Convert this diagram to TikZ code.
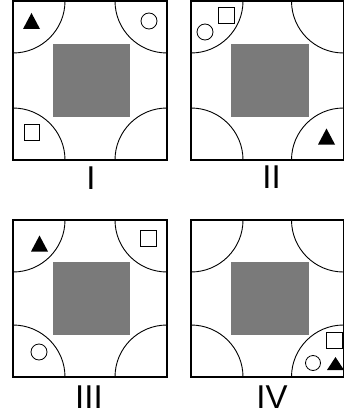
\documentclass[tikz,border=0pt]{standalone}
\usepackage{fontspec}
\setmainfont{Liberation Sans}
\definecolor{blockgray}{RGB}{122,122,122}
\tikzset{
  frame/.style={draw=black, line width=1.1pt},
  arcline/.style={draw=black, line width=0.9pt},
  block/.style={fill=blockgray},
  lab/.style={font=\fontsize{33}{33}\selectfont, inner sep=0pt, anchor=center},
  hollow/.style={draw=black, line width=0.8pt, fill=white},
  pics/tri/.style={code={\fill[black] (-8.5,8) -- (8.5,8) -- (0,-8) -- cycle;}},
  pics/smalltri/.style={code={\fill[black] (-8.5,6.5) -- (8.5,6.5) -- (0,-6.5) -- cycle;}},
  pics/sq/.style={code={\draw[hollow] (-8,-8) rectangle (8,8);}},
}
\newcommand{\panelbox}[5]{%
  % #1 name, #2 x0, #3 y0, #4 x1, #5 y1
  \begin{scope}
    \clip (#2,#3) rectangle (#4,#5);
    \draw[arcline] (#2,#3) circle[radius=52pt];
    \draw[arcline] (#4,#3) circle[radius=52pt];
    \draw[arcline] (#2,#5) circle[radius=52pt];
    \draw[arcline] (#4,#5) circle[radius=52pt];
  \end{scope}
  \draw[frame] (#2,#3) rectangle (#4,#5);
  \coordinate (#1) at (#2,#3);
}
\begin{document}
\begin{tikzpicture}[x=1pt, y=-1pt]
  \useasboundingbox (0,0) rectangle (344,417);
  \fill[white] (0,0) rectangle (344,417);

  % Panel I
  \panelbox{pI}{13}{1}{167}{160}
  \fill[block] (53,44) rectangle (130,117);
  \pic at (31.5,21) {tri};
  \draw[hollow] (149,21) circle[radius=8pt];
  \draw[hollow] (24,124) rectangle (39.5,140);
  \node[lab] (labI) at (91,178) {I};

  % Panel II
  \panelbox{pII}{191}{1}{343.5}{160}
  \fill[block] (231,44) rectangle (309,117);
  \draw[hollow] (218,7) rectangle (234,23);
  \draw[hollow] (205,32) circle[radius=8pt];
  \pic at (326.5,136.5) {tri};
  \node[lab] (labII) at (271.5,177) {II};

  % Panel III
  \panelbox{pIII}{13}{220}{167}{377}
  \fill[block] (53,262) rectangle (130,335);
  \pic at (39.5,243.5) {tri};
  \draw[hollow] (140.5,230) rectangle (156.5,246);
  \draw[hollow] (39,352) circle[radius=8pt];
  \node[lab] (labIII) at (89,397) {III};

  % Panel IV
  \panelbox{pIV}{191}{220}{343.5}{377}
  \fill[block] (231,262) rectangle (309,335);
  \draw[hollow] (326.5,332) rectangle (342.5,348);
  \draw[hollow] (313,363) circle[radius=7.5pt];
  \pic at (335.5,363.5) {smalltri};
  \node[lab] (labIV) at (272,397) {IV};
\end{tikzpicture}
\end{document}
